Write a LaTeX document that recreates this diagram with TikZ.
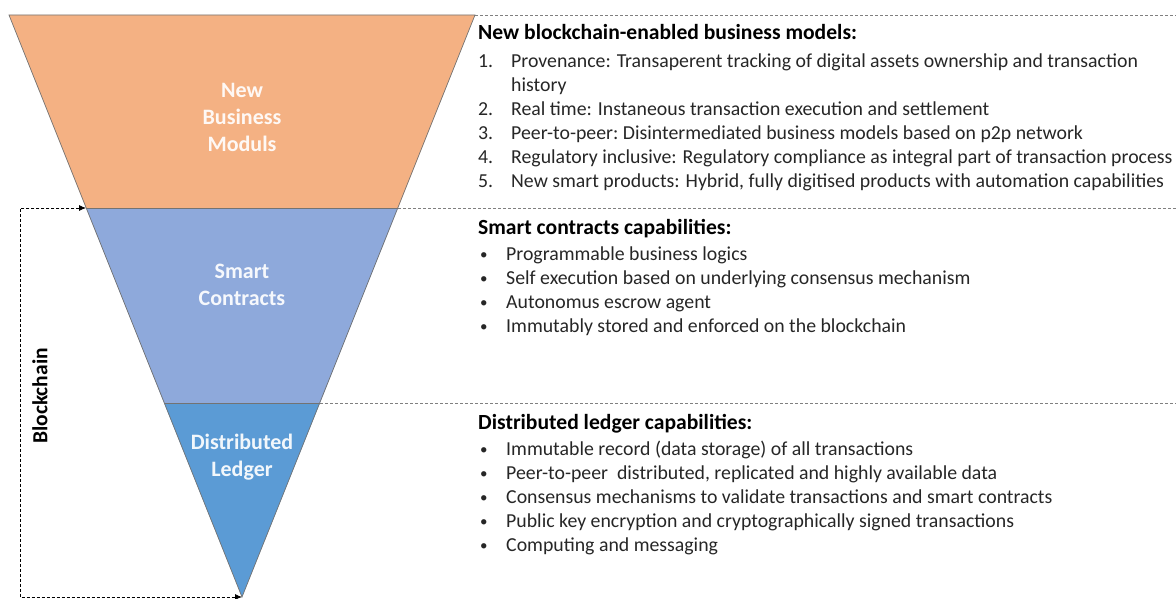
\documentclass[tikz,border=0pt]{standalone}
\usepackage{fontspec}
\setmainfont{Carlito}
\usetikzlibrary{arrows.meta}

\definecolor{bmorange}{HTML}{F4B183}
\definecolor{scblue}{HTML}{8EA9DB}
\definecolor{dlblue}{HTML}{5B9BD5}

\tikzset{
  layer/.style = {draw=black!55, line width=0.7pt},
  layerlabel/.style = {font=\fontsize{22}{27}\selectfont\bfseries, text=white, text opacity=0.92, align=center},
  sep/.style = {draw=black!50, dash pattern=on 3pt off 2pt, line width=0.7pt},
  bracket/.style = {draw=black, dash pattern=on 3pt off 2pt, line width=0.8pt, {Latex[length=7pt,width=6pt]}-{Latex[length=7pt,width=6pt]}},
  head/.style = {font=\fontsize{21.6}{25}\selectfont\bfseries, anchor=base west, inner sep=0pt},
  items/.style = {font=\fontsize{19.8}{24}\selectfont, anchor=north west, inner sep=0pt, align=left, text=black!85}
}
\newcommand{\num}[1]{\makebox[33pt][l]{#1}}
\newcommand{\bul}{\makebox[28pt][l]{\hspace{2pt}\raisebox{1.3pt}{\fontsize{15}{15}\selectfont\textbullet}}}

\begin{document}
\begin{tikzpicture}[x=1pt, y=-1pt]
	\useasboundingbox (0,0) rectangle (1176,599);

	% funnel corners
	\coordinate (tl) at (9,15);
	\coordinate (tr) at (475,15);
	\coordinate (l1) at (86,208);
	\coordinate (r1) at (398,208);
	\coordinate (l2) at (164,403);
	\coordinate (r2) at (320,403);
	\coordinate (apex) at (242,597);
	\coordinate (bl) at (20,597);

	% layers
	\fill[bmorange] (tl) -- (tr) -- (r1) -- (l1) -- cycle;
	\fill[scblue] (l1) -- (r1) -- (r2) -- (l2) -- cycle;
	\fill[dlblue] (l2) -- (r2) -- (apex) -- cycle;
	\draw[layer] (tl) -- (tr) -- (apex) -- cycle;
	\draw[layer] (l1) -- (r1);
	\draw[layer] (l2) -- (r2);

	% separators to the right
	\draw[sep] (tr) -- (1176,15);
	\draw[sep] (r1) -- (1176,208);
	\draw[sep] (r2) -- (1176,403);

	\node[layerlabel] (nbm) at (242,117) {New\\Business\\Moduls};
	\node[layerlabel] (sc) at (242,285) {Smart\\Contracts};
	\node[layerlabel] (dl) at (242,457) {Distributed\\Ledger};

	% blockchain bracket
	\draw[bracket] (l1) -| (bl) -- (apex);
	\node[font=\fontsize{21.5}{24}\selectfont\bfseries, rotate=90] (bc) at (40,396) {Blockchain};

	% capabilities
	\node[head] (bmhead) at (478,40) {New blockchain-enabled business models:};
	\node[items] (bmlist) at (478,54) {%
		\num{1.}Provenance: Transaperent tracking of digital assets ownership and transaction\\
		\num{}history\\
		\num{2.}Real time: Instaneous transaction execution and settlement\\
		\num{3.}Peer-to-peer:\ Disintermediated business models based on p2p network\\
		\num{4.}Regulatory inclusive: Regulatory compliance as integral part of transaction process\\
		\num{5.}New smart products: Hybrid, fully digitised products with automation capabilities};

	\node[head] (schead) at (478,234) {Smart contracts capabilities:};
	\node[items] (sclist) at (478,247) {%
		\bul Programmable business logics\\
		\bul Self execution based on underlying consensus\ mechanism\\
		\bul Autonomus escrow agent\\
		\bul Immutably stored and enforced on the blockchain};

	\node[head] (dlhead) at (478,429) {Distributed ledger capabilities:};
	\node[items] (dllist) at (478,441) {%
		\bul Immutable record (data storage) of all transactions\\
		\bul Peer-to-peer\ \ distributed, replicated and highly available data\\
		\bul Consensus\ mechanisms to validate transactions and smart contracts\\
		\bul Public key encryption and cryptographically signed transactions\\
		\bul Computing and messaging};
\end{tikzpicture}
\end{document}
